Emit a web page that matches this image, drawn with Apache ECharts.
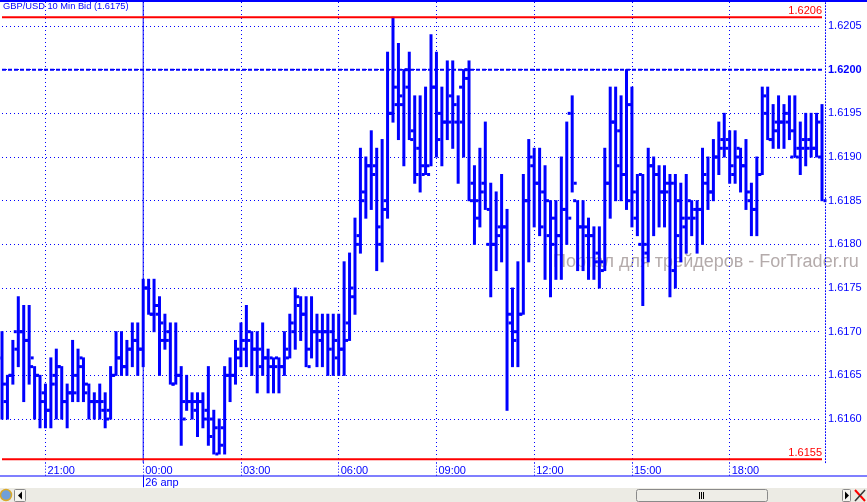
<!DOCTYPE html>
<html>
<head>
<meta charset="utf-8">
<title>GBP/USD 10 Min Bid</title>
<script src="https://cdn.jsdelivr.net/npm/echarts@6/dist/echarts.min.js"></script>
<style>
  html, body { margin: 0; padding: 0; background: #fff; }
  #ohlcchart { width: 867px; height: 502px; }
</style>
</head>
<body>
<div id="ohlcchart"></div>
<script>
// 10 minute bars, first bar 19:40, last bar 20:50 next day
const firstBarTime = "19:40";
const opens = [
  1.6167, 1.6164, 1.6165, 1.6170, 1.6170, 1.6169, 1.6166, 1.6165, 1.6162, 1.6161,
  1.6164, 1.6166, 1.6162, 1.6163, 1.6163, 1.6166, 1.6163, 1.6162, 1.6162, 1.6162,
  1.6160, 1.6165, 1.6167, 1.6166, 1.6168, 1.6169, 1.6168, 1.6175, 1.6172, 1.6173,
  1.6171, 1.6169, 1.6164, 1.6165, 1.6162, 1.6162, 1.6162, 1.6162, 1.6160, 1.6158,
  1.6159, 1.6157, 1.6165, 1.6165, 1.6168, 1.6169, 1.6169, 1.6168, 1.6168, 1.6167,
  1.6166, 1.6166, 1.6166, 1.6168, 1.6171, 1.6174, 1.6172, 1.6168, 1.6170, 1.6170,
  1.6170, 1.6168, 1.6169, 1.6168, 1.6169, 1.6175, 1.6180, 1.6185, 1.6189, 1.6188,
  1.6182, 1.6184, 1.6195, 1.6198, 1.6197, 1.6200, 1.6192, 1.6188, 1.6189, 1.6189,
  1.6198, 1.6192, 1.6194, 1.6194, 1.6196, 1.6198, 1.6200, 1.6185, 1.6185, 1.6186,
  1.6180, 1.6180, 1.6181, 1.6182, 1.6172, 1.6169, 1.6172, 1.6185, 1.6190, 1.6187,
  1.6182, 1.6185, 1.6180, 1.6181, 1.6184, 1.6195, 1.6185, 1.6182, 1.6182, 1.6181,
  1.6178, 1.6178, 1.6187, 1.6194, 1.6189, 1.6188, 1.6185, 1.6186, 1.6180, 1.6180,
  1.6189, 1.6188, 1.6186, 1.6186, 1.6187, 1.6181, 1.6183, 1.6183, 1.6183, 1.6184,
  1.6188, 1.6186, 1.6190, 1.6191, 1.6191, 1.6189, 1.6190, 1.6189, 1.6186, 1.6184,
  1.6188, 1.6197, 1.6192, 1.6193, 1.6194, 1.6195, 1.6190, 1.6190, 1.6191, 1.6191,
  1.6191, 1.6194
];
const highs = [
  1.6170, 1.6165, 1.6169, 1.6174, 1.6173, 1.6173, 1.6166, 1.6165, 1.6164, 1.6167,
  1.6168, 1.6166, 1.6164, 1.6169, 1.6168, 1.6167, 1.6164, 1.6163, 1.6164, 1.6163,
  1.6166, 1.6170, 1.6170, 1.6169, 1.6171, 1.6171, 1.6176, 1.6176, 1.6176, 1.6174,
  1.6172, 1.6171, 1.6171, 1.6166, 1.6165, 1.6163, 1.6163, 1.6163, 1.6166, 1.6161,
  1.6160, 1.6166, 1.6167, 1.6169, 1.6171, 1.6173, 1.6170, 1.6170, 1.6171, 1.6168,
  1.6167, 1.6167, 1.6170, 1.6172, 1.6175, 1.6174, 1.6174, 1.6174, 1.6172, 1.6172,
  1.6172, 1.6172, 1.6172, 1.6178, 1.6179, 1.6183, 1.6191, 1.6190, 1.6193, 1.6191,
  1.6192, 1.6202, 1.6206, 1.6203, 1.6200, 1.6202, 1.6197, 1.6197, 1.6198, 1.6204,
  1.6202, 1.6198, 1.6201, 1.6201, 1.6197, 1.6200, 1.6201, 1.6189, 1.6191, 1.6194,
  1.6187, 1.6186, 1.6188, 1.6184, 1.6175, 1.6178, 1.6188, 1.6192, 1.6191, 1.6191,
  1.6189, 1.6185, 1.6185, 1.6190, 1.6194, 1.6197, 1.6185, 1.6185, 1.6183, 1.6182,
  1.6182, 1.6191, 1.6198, 1.6198, 1.6197, 1.6200, 1.6198, 1.6188, 1.6188, 1.6191,
  1.6190, 1.6189, 1.6189, 1.6188, 1.6188, 1.6187, 1.6188, 1.6185, 1.6185, 1.6191,
  1.6190, 1.6192, 1.6194, 1.6195, 1.6193, 1.6193, 1.6191, 1.6192, 1.6187, 1.6190,
  1.6198, 1.6198, 1.6196, 1.6197, 1.6196, 1.6197, 1.6197, 1.6194, 1.6195, 1.6195,
  1.6195, 1.6196
];
const lows = [
  1.6160, 1.6160, 1.6164, 1.6166, 1.6162, 1.6164, 1.6160, 1.6159, 1.6159, 1.6159,
  1.6160, 1.6160, 1.6159, 1.6162, 1.6162, 1.6162, 1.6160, 1.6160, 1.6160, 1.6159,
  1.6160, 1.6165, 1.6165, 1.6165, 1.6166, 1.6165, 1.6166, 1.6172, 1.6170, 1.6165,
  1.6168, 1.6164, 1.6164, 1.6157, 1.6161, 1.6160, 1.6158, 1.6159, 1.6157, 1.6156,
  1.6156, 1.6156, 1.6162, 1.6164, 1.6166, 1.6166, 1.6165, 1.6163, 1.6165, 1.6163,
  1.6163, 1.6163, 1.6165, 1.6167, 1.6168, 1.6169, 1.6166, 1.6167, 1.6166, 1.6166,
  1.6165, 1.6165, 1.6165, 1.6165, 1.6169, 1.6172, 1.6179, 1.6183, 1.6184, 1.6177,
  1.6178, 1.6183, 1.6194, 1.6192, 1.6189, 1.6192, 1.6187, 1.6186, 1.6188, 1.6189,
  1.6190, 1.6189, 1.6192, 1.6191, 1.6187, 1.6190, 1.6185, 1.6180, 1.6182, 1.6184,
  1.6174, 1.6177, 1.6178, 1.6161, 1.6166, 1.6166, 1.6172, 1.6178, 1.6182, 1.6181,
  1.6176, 1.6174, 1.6176, 1.6176, 1.6180, 1.6186, 1.6177, 1.6177, 1.6176, 1.6176,
  1.6175, 1.6177, 1.6183, 1.6185, 1.6185, 1.6184, 1.6182, 1.6181, 1.6173, 1.6178,
  1.6181, 1.6182, 1.6182, 1.6174, 1.6175, 1.6178, 1.6179, 1.6181, 1.6179, 1.6180,
  1.6184, 1.6185, 1.6188, 1.6190, 1.6187, 1.6187, 1.6186, 1.6184, 1.6181, 1.6181,
  1.6188, 1.6192, 1.6191, 1.6191, 1.6191, 1.6192, 1.6190, 1.6188, 1.6189, 1.6190,
  1.6190, 1.6185
];
const closes = [
  1.6162, 1.6165, 1.6168, 1.6170, 1.6169, 1.6167, 1.6165, 1.6163, 1.6161, 1.6165,
  1.6166, 1.6162, 1.6163, 1.6165, 1.6167, 1.6164, 1.6162, 1.6162, 1.6161, 1.6161,
  1.6165, 1.6167, 1.6166, 1.6168, 1.6169, 1.6168, 1.6175, 1.6172, 1.6172, 1.6169,
  1.6170, 1.6164, 1.6165, 1.6160, 1.6162, 1.6161, 1.6162, 1.6161, 1.6160, 1.6156,
  1.6159, 1.6165, 1.6165, 1.6167, 1.6168, 1.6170, 1.6168, 1.6166, 1.6167, 1.6167,
  1.6167, 1.6166, 1.6167, 1.6170, 1.6173, 1.6172, 1.6166, 1.6170, 1.6169, 1.6170,
  1.6170, 1.6167, 1.6168, 1.6171, 1.6174, 1.6181, 1.6186, 1.6189, 1.6189, 1.6180,
  1.6185, 1.6195, 1.6196, 1.6196, 1.6198, 1.6193, 1.6191, 1.6188, 1.6188, 1.6198,
  1.6195, 1.6194, 1.6197, 1.6194, 1.6194, 1.6199, 1.6187, 1.6183, 1.6187, 1.6184,
  1.6180, 1.6182, 1.6182, 1.6171, 1.6170, 1.6172, 1.6185, 1.6189, 1.6187, 1.6186,
  1.6181, 1.6183, 1.6181, 1.6184, 1.6183, 1.6187, 1.6182, 1.6181, 1.6181, 1.6179,
  1.6177, 1.6187, 1.6194, 1.6193, 1.6188, 1.6196, 1.6183, 1.6188, 1.6179, 1.6189,
  1.6188, 1.6186, 1.6187, 1.6177, 1.6185, 1.6182, 1.6185, 1.6184, 1.6184, 1.6187,
  1.6186, 1.6190, 1.6192, 1.6192, 1.6188, 1.6191, 1.6189, 1.6185, 1.6184, 1.6188,
  1.6195, 1.6192, 1.6194, 1.6194, 1.6194, 1.6193, 1.6191, 1.6192, 1.6192, 1.6191,
  1.6190, 1.6185
];
const timeTickLabels = ["21:00", "00:00", "03:00", "06:00", "09:00", "12:00", "15:00", "18:00"];
const dayStartLabel = "00:00";
const dayLabel = "26 апр";
const priceTicks = { min: 1.6155, max: 1.620775, step: 0.0005 };
const dayHigh = 1.6206;
const dayLow = 1.61554;
const roundLevel = 1.6200;
const titleText = "GBP/USD 10 Min Bid (1.6175)";
const watermarkText = "Портал для трейдеров - ForTrader.ru";

const BLUE = "#0000ff";
const RED = "#ff0000";

// category labels, one per bar
const pad = (n) => (n < 10 ? "0" + n : "" + n);
const times = [];
(function () {
  const [h0, m0] = firstBarTime.split(":").map(Number);
  for (let i = 0; i < opens.length; i++) {
    const t = (h0 * 60 + m0 + i * 10) % 1440;
    times.push(pad(Math.floor(t / 60)) + ":" + pad(t % 60));
  }
})();
const lastIndex = times.length - 1;
const dayIndex = times.indexOf(dayStartLabel);

const barData = opens.map((o, i) => [i, o, highs[i], lows[i], closes[i]]);

const isTimeTick = (index, value) => timeTickLabels.indexOf(value) !== -1;
const isDayTick = (index, value) => value === dayStartLabel;

const renderBar = (params, api) => {
  const i = api.value(0);
  const x = api.coord([i, api.value(2)])[0];
  const yO = api.coord([i, api.value(1)])[1];
  const yH = api.coord([i, api.value(2)])[1];
  const yL = api.coord([i, api.value(3)])[1];
  const yC = api.coord([i, api.value(4)])[1];
  const style = { fill: BLUE };
  return {
    type: "group",
    children: [
      { type: "rect", shape: { x: x - 1.5, y: yH - 0.5, width: 3, height: yL - yH + 1 }, style },
      { type: "rect", shape: { x: x - 4.5, y: yO - 1.5, width: 3, height: 3 }, style },
      { type: "rect", shape: { x: x + 1.5, y: yC - 1.5, width: 3, height: 3 }, style },
    ],
  };
};

// horizontal level drawn as a 2-point line across the whole visible range
const levelLine = (name, value, color, type, labelText) => ({
  name,
  type: "line",
  silent: true,
  z: 4,
  symbol: "circle",
  symbolSize: 0,
  showSymbol: true,
  lineStyle: { color, type, width: 2 },
  itemStyle: { color },
  data: [
    [0, value],
    {
      value: [lastIndex, value],
      label: {
        show: !!labelText,
        formatter: labelText || "",
        position: "top",
        align: "right",
        distance: 1,
        color,
        fontSize: 11,
        fontFamily: "Liberation Sans",
      },
    },
  ],
});

const getOption = () => {
  return {
    backgroundColor: "#fff",
    animation: false,
    grid: { left: 2, right: 45, top: 2, bottom: 39.3, containLabel: false },
    xAxis: [
      {
        type: "category",
        data: times,
        boundaryGap: false,
        axisLine: { show: false },
        axisTick: {
          show: true,
          interval: isTimeTick,
          length: 13.5,
          lineStyle: { color: BLUE, type: [1, 2] },
        },
        axisLabel: {
          interval: isTimeTick,
          color: BLUE,
          fontSize: 11,
          fontFamily: "Liberation Sans",
          align: "left",
          padding: [0, 0, 0, 2],
          margin: 3,
        },
        splitLine: {
          show: true,
          interval: isTimeTick,
          lineStyle: { color: BLUE, type: [1, 3], width: 1 },
        },
      },
      {
        type: "category",
        data: times,
        boundaryGap: false,
        position: "bottom",
        offset: 13.5,
        axisLine: { show: false },
        axisTick: {
          show: true,
          interval: isDayTick,
          length: 11,
          lineStyle: { color: BLUE, width: 1 },
        },
        axisLabel: {
          interval: isDayTick,
          formatter: () => dayLabel,
          color: BLUE,
          fontSize: 11,
          fontFamily: "Liberation Sans",
          align: "left",
          padding: [0, 0, 0, 2],
          margin: 1.5,
        },
        splitLine: { show: false },
      },
    ],
    yAxis: {
      type: "value",
      position: "right",
      offset: 3,
      min: priceTicks.min,
      max: priceTicks.max,
      interval: priceTicks.step,
      axisLine: { show: true, lineStyle: { color: BLUE, type: [1, 2] } },
      axisTick: { show: false },
      axisLabel: {
        margin: 3,
        color: BLUE,
        fontSize: 11,
        fontFamily: "Liberation Sans",
        showMinLabel: false,
        showMaxLabel: false,
        formatter: (v) => {
          const s = v.toFixed(4);
          return Math.abs(v - roundLevel) < 1e-7 ? "{b|" + s + "}" : s;
        },
        rich: { b: { fontWeight: "bold", color: BLUE, fontSize: 11, fontFamily: "Liberation Sans" } },
      },
      splitLine: {
        show: true,
        showMinLine: false,
        showMaxLine: false,
        lineStyle: { color: BLUE, type: [1, 3], width: 1 },
      },
    },
    graphic: [
      { type: "rect", z: 1, shape: { x: 0, y: 0, width: 867, height: 2 }, style: { fill: BLUE } },
      {
        type: "text", z: 1, left: 3, top: 2,
        style: { text: titleText, fill: BLUE, font: "9.3px 'Liberation Sans'" },
      },
      {
        type: "text", z: 0, left: 553, top: 253,
        style: { text: watermarkText, fill: "#b4abab", font: "18px 'Liberation Sans'" },
      },
      { type: "rect", z: 1, shape: { x: 0, y: 475.5, width: 867, height: 1 }, style: { fill: BLUE } },
      // scroll bar
      { type: "rect", z: 1, shape: { x: 0, y: 488, width: 867, height: 14 }, style: { fill: "#ecebe4" } },
      { type: "circle", z: 1, shape: { cx: 6, cy: 495, r: 5.5 }, style: { fill: "#6f9fd8", stroke: "#d8a82a", lineWidth: 1.5 } },
      { type: "rect", z: 1, shape: { x: 14.5, y: 489.5, width: 11, height: 12, r: 1 }, style: { fill: "#f6f5f0", stroke: "#8a8a8a" } },
      { type: "polygon", z: 1, shape: { points: [[22, 491.5], [22, 499.5], [18, 495.5]] }, style: { fill: "#000" } },
      { type: "rect", z: 1, shape: { x: 636.5, y: 489.5, width: 131, height: 12, r: 2 }, style: { fill: "#eeede7", stroke: "#8a8a8a" } },
      { type: "rect", z: 1, shape: { x: 699, y: 492, width: 1, height: 7 }, style: { fill: "#000" } },
      { type: "rect", z: 1, shape: { x: 701, y: 492, width: 1, height: 7 }, style: { fill: "#000" } },
      { type: "rect", z: 1, shape: { x: 703, y: 492, width: 1, height: 7 }, style: { fill: "#000" } },
      { type: "rect", z: 1, shape: { x: 842.5, y: 489.5, width: 8, height: 12, r: 1 }, style: { fill: "#f6f5f0", stroke: "#8a8a8a" } },
      { type: "polygon", z: 1, shape: { points: [[845, 491.5], [845, 499.5], [849, 495.5]] }, style: { fill: "#000" } },
      { type: "line", z: 1, shape: { x1: 855, y1: 490, x2: 865, y2: 501 }, style: { stroke: RED, lineWidth: 2 } },
      { type: "line", z: 1, shape: { x1: 865, y1: 490, x2: 855, y2: 501 }, style: { stroke: "#333", lineWidth: 1.5 } },
    ],
    series: [
      {
        name: "GBP/USD",
        type: "custom",
        z: 3,
        renderItem: renderBar,
        encode: { x: 0, y: [1, 2, 3, 4] },
        data: barData,
      },
      levelLine("high", dayHigh, RED, "solid", dayHigh.toFixed(4)),
      levelLine("low", dayLow, RED, "solid", dayLow.toFixed(4)),
      levelLine("round", roundLevel, BLUE, [4, 2], null),
      {
        name: "day",
        type: "line",
        silent: true,
        z: 2,
        symbol: "none",
        lineStyle: { color: BLUE, type: "solid", width: 1 },
        data: [[dayIndex, priceTicks.min], [dayIndex, priceTicks.max]],
      },
    ],
  };
};

const chartDom = document.getElementById("ohlcchart");
const myChart = echarts.init(chartDom, null, { renderer: "canvas" });
myChart.setOption(getOption());
</script>
</body>
</html>
